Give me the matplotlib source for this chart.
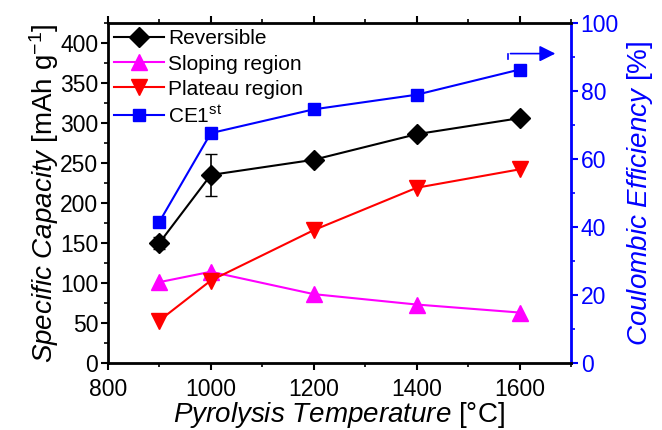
import matplotlib
matplotlib.use("Agg")
import matplotlib.pyplot as plt
from matplotlib.ticker import MultipleLocator
from matplotlib.lines import Line2D

plt.rcParams['font.family'] = ['Liberation Sans', 'DejaVu Sans']
plt.rcParams['mathtext.fontset'] = 'custom'
plt.rcParams['mathtext.rm'] = 'Liberation Sans'
plt.rcParams['mathtext.it'] = 'Liberation Sans:italic'
plt.rcParams['axes.unicode_minus'] = False

temps = [900, 1000, 1200, 1400, 1600]
reversible = [150, 235, 254, 286, 306]
reversible_err = [8, 26, 0, 0, 0]
sloping = [101, 114, 86, 73, 63]
plateau = [53, 103, 166, 219, 242]
ce_first = [41.5, 67.6, 74.6, 78.9, 86.3]

black, magenta, red, blue = 'black', '#ff00ff', '#ff0000', '#0000ff'

fig = plt.figure(figsize=(6.62, 4.30), dpi=100)
ax = fig.add_axes([0.163, 0.156, 0.6995, 0.7905])
ax2 = ax.twinx()

ax.errorbar(temps, reversible, yerr=reversible_err, color=black, marker='D', ms=10,
            lw=1.5, capsize=4, elinewidth=1.2, zorder=4)
ax.plot(temps, sloping, color=magenta, marker='^', ms=12, lw=1.5, zorder=3)
ax.plot(temps, plateau, color=red, marker='v', ms=12, lw=1.5, zorder=3)
ax2.plot(temps, ce_first, color=blue, marker='s', ms=9, lw=1.5)

ax.set_xlim(800, 1700)
ax.set_ylim(0, 425)
ax2.set_ylim(0, 100)

ax.xaxis.set_major_locator(MultipleLocator(200))
ax.xaxis.set_minor_locator(MultipleLocator(100))
ax.yaxis.set_major_locator(MultipleLocator(50))
ax.yaxis.set_minor_locator(MultipleLocator(25))
ax2.yaxis.set_major_locator(MultipleLocator(20))
ax2.yaxis.set_minor_locator(MultipleLocator(10))

ax.tick_params(axis='y', which='major', labelsize=16.5, length=5, width=1.5,
               direction='out', pad=2)
ax.tick_params(axis='y', which='minor', length=3, width=1.2, direction='out')
ax.tick_params(axis='x', which='both', top=True, length=2, width=1, direction='out')
ax.tick_params(axis='x', which='major', labelsize=16.5, length=5, width=1.5, pad=6)
ax.tick_params(axis='x', which='minor', bottom=True, length=3, width=1.2)
ax2.tick_params(axis='y', which='major', labelsize=16.5, length=5, width=1.5,
                colors=blue, pad=2)
ax2.tick_params(axis='y', which='minor', length=3, width=1.2, colors=blue)

for s in ['left', 'bottom', 'top']:
    ax2.spines[s].set_linewidth(2)
ax2.spines['right'].set_color(blue)
ax2.spines['right'].set_linewidth(2)

ax.set_xlabel(r'$\mathit{Pyrolysis\ Temperature}$ [°C]', fontsize=20, labelpad=-1)
ax.set_ylabel(r'$\mathit{Specific\ Capacity}$ [mAh g$^{\mathregular{-1}}$]', fontsize=20, labelpad=-1)
ax2.set_ylabel(r'$\mathit{Coulombic\ Efficiency}$ [%]', fontsize=20, color=blue, labelpad=4)

handles = [
    Line2D([], [], color=black, marker='D', ms=10, lw=1.5),
    Line2D([], [], color=magenta, marker='^', ms=12, lw=1.5),
    Line2D([], [], color=red, marker='v', ms=12, lw=1.5),
    Line2D([], [], color=blue, marker='s', ms=9, lw=1.5),
]
labels = ['Reversible', 'Sloping region', 'Plateau region', r'CE1$^{\mathregular{st}}$']
ax.legend(handles, labels, loc='upper left', frameon=False, fontsize=15, handlelength=2.4,
          borderaxespad=0.1, borderpad=0.2, labelspacing=0.3, handletextpad=0.2)

# arrow pointing to right axis
ax2.plot([1578, 1578], [89.5, 91], color=blue, lw=1.2)
ax2.annotate('', xy=(1675, 91), xytext=(1577, 91),
             arrowprops=dict(arrowstyle='-|>', color=blue, lw=1.2, mutation_scale=24))

fig.savefig('out.png', dpi=100)
